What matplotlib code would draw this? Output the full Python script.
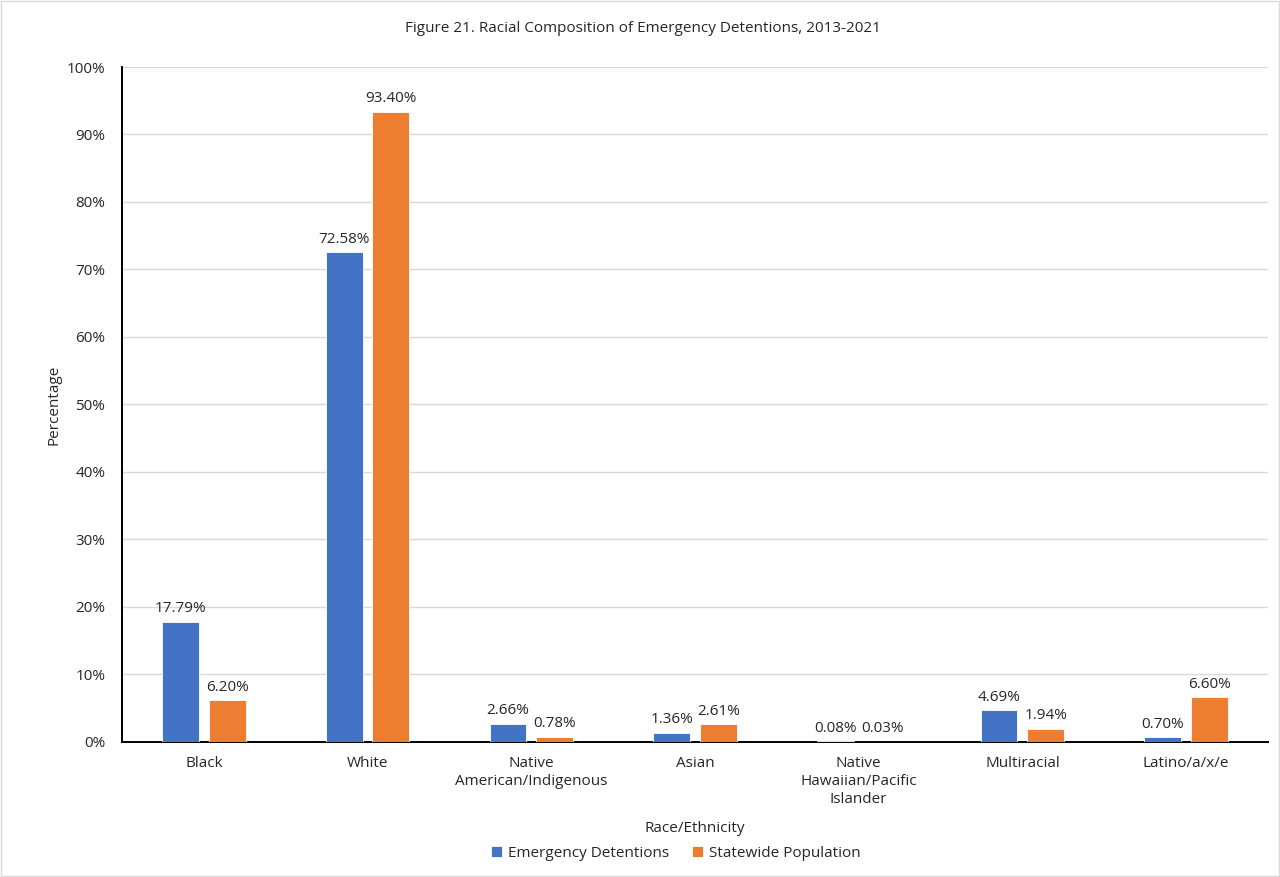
import matplotlib

matplotlib.use("Agg")
import matplotlib.pyplot as plt
import numpy as np
from matplotlib.patches import Rectangle
from matplotlib.ticker import FuncFormatter, MultipleLocator

categories = [
    "Black",
    "White",
    "Native\nAmerican/Indigenous",
    "Asian",
    "Native\nHawaiian/Pacific\nIslander",
    "Multiracial",
    "Latino/a/x/e",
]
emergency = [17.79, 72.58, 2.66, 1.36, 0.08, 4.69, 0.70]
statewide = [6.20, 93.40, 0.78, 2.61, 0.03, 1.94, 6.60]

BLUE = "#4472c4"
ORANGE = "#ed7d31"
TEXT = "#262626"
FS = 11

plt.rcParams["font.family"] = ["Open Sans", "DejaVu Sans"]

fig = plt.figure(figsize=(12.8, 8.77), dpi=100)
ax = fig.add_axes([0.0953, 0.154, 0.8953, 0.7696])

x = np.arange(len(categories))
w = 0.225
gap = 0.06
off = (w + gap) / 2
b1 = ax.bar(x - off, emergency, width=w, color=BLUE, edgecolor="white", linewidth=0.6,
            label="Emergency Detentions", zorder=3)
b2 = ax.bar(x + off, statewide, width=w, color=ORANGE, edgecolor="white", linewidth=0.6,
            label="Statewide Population", zorder=3)
ax.bar_label(b1, fmt="%.2f%%", fontsize=FS, padding=4, color=TEXT)
ax.bar_label(b2, fmt="%.2f%%", fontsize=FS, padding=4, color=TEXT)

ax.set_xlim(-0.5, len(categories) - 0.5)
ax.set_ylim(0, 100)
ax.yaxis.set_major_locator(MultipleLocator(10))
ax.yaxis.set_major_formatter(FuncFormatter(lambda v, _: f"{v:.0f}%"))
ax.set_xticks(x)
ax.set_xticklabels(categories, fontsize=FS, color=TEXT, va="top", linespacing=1.3)
ax.tick_params(axis="both", length=0, labelsize=FS, labelcolor=TEXT)
ax.tick_params(axis="x", pad=10)
ax.tick_params(axis="y", pad=12)
ax.grid(axis="y", color="#d9d9d9", linewidth=1, zorder=0)
ax.set_axisbelow(True)
for side in ("top", "right"):
    ax.spines[side].set_visible(False)
for side in ("left", "bottom"):
    ax.spines[side].set_color("black")
    ax.spines[side].set_linewidth(1.4)

ax.set_ylabel("Percentage", fontsize=FS, color=TEXT, labelpad=4)
ax.set_xlabel("Race/Ethnicity", fontsize=FS, color=TEXT, labelpad=10)
fig.text(0.502, 0.968, "Figure 21. Racial Composition of Emergency Detentions, 2013-2021",
         ha="center", va="center", fontsize=FS, color=TEXT)

fig.legend(handles=[b1, b2], loc="center", bbox_to_anchor=(0.528, 0.027), ncol=2,
           frameon=False, fontsize=FS, handlelength=0.7, handleheight=0.7,
           handletextpad=0.4, columnspacing=1.5, labelcolor=TEXT)

fig.patches.append(Rectangle((0.001, 0.001), 0.998, 0.998, transform=fig.transFigure,
                             fill=False, edgecolor="#d9d9d9", linewidth=1))

fig.savefig("out.png", dpi=100)
